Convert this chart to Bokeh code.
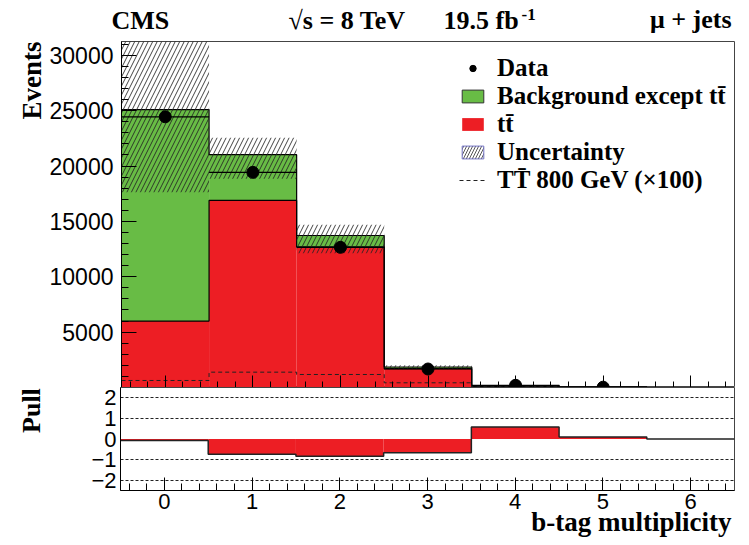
import numpy as np
from bokeh.plotting import figure
from bokeh.layouts import column, row
from bokeh.models import (Range1d, FixedTicker, SingleIntervalTicker, Label,
                          Legend, LegendItem, Title, CustomLabelingPolicy)
from bokeh.embed import file_html
from bokeh.resources import INLINE

# ---------------- data ----------------
bins = [0, 1, 2, 3, 4, 5, 6]
ttbar = [6000, 16900, 12700, 1700, 100, 15, 0]
background = [19100, 4130, 1030, 150, 50, 10, 0]
unc_up = [7500, 1520, 960, 150, 40, 8, 0]
unc_down = [7460, 2180, 1600, 200, 40, 8, 0]
tprime_x100 = [635, 1385, 1175, 425, 50, 5, 0]
data_bins = [0, 1, 2, 3, 4, 5]
data_counts = [24450, 19430, 12660, 1670, 200, 30]
pull = [-0.07, -0.74, -0.84, -0.67, 0.58, 0.10, 0.0]
y_ticks = [5000, 10000, 15000, 20000, 25000, 30000]
y_minor = [1000 * i for i in range(1, 32)]
pull_ticks = [-2, -1, 0, 1, 2]
pull_grid = [-2, -1, 1, 2]

RED = "#ed1e24"
GREEN = "#68bc45"
SERIF = "Liberation Serif"
SANS = "Liberation Sans"

W, H = 749, 545
FL, FR, FT, FB, PB = 120, 734, 41, 387, 490
STRIP = 46
YMAX = 31250
MID = 0.3375  # baseline -> middle of font box, in em (Liberation Serif)

b = np.array(bins, dtype=float)
tt = np.array(ttbar, dtype=float)
bk = np.array(background, dtype=float)
tot = tt + bk
edges = np.append(b - 0.5, b[-1] + 0.5)
NAN = np.array([np.nan])


def stepy(v):
    v = list(v)
    return v + [v[-1]]


def blank(width, height, y0, y1):
    f = figure(width=width, height=height, x_range=Range1d(0, width),
               y_range=Range1d(y1, y0), x_axis_type=None, y_axis_type=None,
               output_backend="svg", toolbar_location=None, min_border=0,
               outline_line_color=None)
    f.background_fill_color = "white"
    f.border_fill_color = "white"
    return f


txt = dict(text_font=SERIF, text_font_style="bold", text_color="black",
           text_baseline="middle")

# ---------------- header ----------------
header = blank(W, FT, 0, FT)
header.add_layout(Label(x=111, y=29 - MID * 26, text="CMS",
                        text_align="left", text_font_size="26px", **txt))
header.add_layout(Label(x=405, y=29 - MID * 26, text="\u221as = 8 TeV",
                        text_align="right", text_font_size="26px", **txt))
header.add_layout(Label(x=443, y=29 - MID * 26, text="19.5 fb",
                        text_align="left", text_font_size="26px", **txt))
header.add_layout(Label(x=521, y=20 - MID * 17, text="-1",
                        text_align="left", text_font_size="17px", **txt))
header.add_layout(Label(x=731, y=28 - MID * 26, text="\u03bc + jets",
                        text_align="right", text_font_size="26px", **txt))

# ---------------- left strips for the rotated titles ----------------
strip1 = blank(STRIP, FB - FT, FT, FB)
strip1.add_layout(Label(x=41 - MID * 27, y=FT, text="Events",
                        angle=np.pi / 2, text_align="right",
                        text_font_size="27px", **txt))
strip2 = blank(STRIP, H - FB, FB, H)
strip2.add_layout(Label(x=40 - MID * 26, y=FB + 1, text="Pull",
                        angle=np.pi / 2, text_align="right",
                        text_font_size="26px", **txt))

# ---------------- main panel ----------------
p = figure(width=W - STRIP, height=FB - FT, x_range=Range1d(-0.5, 6.5),
           y_range=Range1d(0, YMAX), output_backend="svg",
           toolbar_location=None, min_border_left=FL - STRIP,
           min_border_right=W - FR, min_border_top=0, min_border_bottom=0)
p.xgrid.visible = False
p.ygrid.visible = False
p.outline_line_color = "#444444"
p.background_fill_color = "white"
p.border_fill_color = "white"

r_tt = p.quad(left=b - 0.5, right=b + 0.5, bottom=0, top=tt,
              fill_color=RED, line_color=None)
p.quad(left=b - 0.5, right=b + 0.5, bottom=tt, top=tot,
       fill_color=GREEN, line_color=None)
p.step(edges, stepy(tt), mode="after", line_color="black", line_width=1.2)
p.step(edges, stepy(tot), mode="after", line_color="black", line_width=1.2)
r_tp = p.step(edges, stepy(tprime_x100), mode="after", line_color="#222222",
              line_width=1, line_dash="4 3")
p.quad(left=b - 0.5, right=b + 0.5,
       bottom=tot - np.array(unc_down), top=tot + np.array(unc_up),
       fill_color=None, line_color=None, hatch_pattern="/",
       hatch_color="#222222", hatch_alpha=0.85, hatch_scale=9,
       hatch_weight=1)
# legend-only glyphs (not drawn in the plot area)
r_bkg_leg = p.quad(left=NAN, right=NAN, bottom=NAN, top=NAN,
                   fill_color=GREEN, line_color="#333333", line_width=1)
r_unc_leg = p.quad(left=NAN, right=NAN, bottom=NAN, top=NAN,
                   fill_color=None, line_color="#7070c0", line_width=1,
                   hatch_pattern="/", hatch_color="#555555", hatch_scale=6,
                   hatch_weight=1)

db = np.array(data_bins, dtype=float)
dc = np.array(data_counts, dtype=float)
p.segment(db - 0.5, dc, db + 0.5, dc, line_color="black", line_width=1.2)
p.segment(db, dc - np.sqrt(dc), db, dc + np.sqrt(dc), line_color="black",
          line_width=1.2)
r_data = p.scatter(db, dc, size=12, fill_color="black", line_color="black")

p.xaxis.ticker = SingleIntervalTicker(interval=1, num_minor_ticks=5)
p.xaxis.major_label_text_font_size = "0px"
p.xaxis.major_label_policy = CustomLabelingPolicy(
    code="const all = [...indices]; for (const i of all) { indices.unset(i) }; return indices")
p.xaxis.major_label_standoff = 0
p.xaxis.major_tick_in = 12
p.xaxis.major_tick_out = 0
p.xaxis.minor_tick_in = 6
p.xaxis.minor_tick_out = 0
p.xaxis.axis_line_color = "black"

p.yaxis.ticker = FixedTicker(ticks=y_ticks, minor_ticks=y_minor)
p.yaxis.major_tick_in = 15
p.yaxis.major_tick_out = 0
p.yaxis.minor_tick_in = 7
p.yaxis.minor_tick_out = 0
p.yaxis.major_label_text_font = SANS
p.yaxis.major_label_text_font_size = "23px"
p.yaxis.major_label_text_color = "black"
p.yaxis.major_label_standoff = 8
p.yaxis.axis_line_color = "black"

legend = Legend(items=[
    LegendItem(label="Data", renderers=[r_data]),
    LegendItem(label="Background except tt\u0304", renderers=[r_bkg_leg]),
    LegendItem(label="tt\u0304", renderers=[r_tt]),
    LegendItem(label="Uncertainty", renderers=[r_unc_leg]),
    LegendItem(label="TT\u0304 800 GeV (\u00d7100)", renderers=[r_tp]),
], location=(338, 193))
legend.background_fill_alpha = 0
legend.border_line_color = None
legend.label_text_font = SERIF
legend.label_text_font_style = "bold"
legend.label_text_font_size = "25px"
legend.label_text_color = "black"
legend.glyph_width = 27
legend.glyph_height = 16
legend.label_standoff = 11
legend.label_height = 27
legend.spacing = 0
legend.padding = 0
legend.margin = 0
p.add_layout(legend)

# ---------------- pull panel ----------------
q = figure(width=W - STRIP, height=H - FB, x_range=p.x_range,
           y_range=Range1d(-2.5, 2.5), output_backend="svg",
           toolbar_location=None, min_border_left=FL - STRIP,
           min_border_right=W - FR, min_border_top=0,
           min_border_bottom=H - PB)
q.xgrid.visible = False
q.ygrid.ticker = FixedTicker(ticks=pull_grid)
q.ygrid.grid_line_color = "#222222"
q.ygrid.grid_line_dash = "3 2"
q.ygrid.grid_line_width = 1
q.outline_line_color = "#444444"
q.background_fill_color = "white"
q.border_fill_color = "white"

pl = np.array(pull, dtype=float)
q.quad(left=b - 0.5, right=b + 0.5, bottom=np.minimum(pl, 0),
       top=np.maximum(pl, 0), fill_color=RED, line_color=None)
q.step(edges, stepy(pl), mode="after", line_color="#222222", line_width=1.5)

q.xaxis.ticker = SingleIntervalTicker(interval=1, num_minor_ticks=5)
q.xaxis.major_tick_in = 13
q.xaxis.major_tick_out = 0
q.xaxis.minor_tick_in = 7
q.xaxis.minor_tick_out = 0
q.xaxis.major_label_text_font = SANS
q.xaxis.major_label_text_font_size = "22px"
q.xaxis.major_label_text_color = "black"
q.xaxis.major_label_standoff = 3
q.xaxis.axis_line_color = "black"

q.yaxis.ticker = FixedTicker(ticks=pull_ticks, minor_ticks=[])
q.yaxis.major_tick_in = 0
q.yaxis.major_tick_out = 0
q.yaxis.major_label_text_font = SANS
q.yaxis.major_label_text_font_size = "22px"
q.yaxis.major_label_text_color = "black"
q.yaxis.major_label_standoff = 4
q.yaxis.axis_line_color = "black"

q.add_layout(Title(text="b-tag multiplicity", align="right", offset=3,
                   vertical_align="top", standoff=-10, text_font=SERIF,
                   text_font_style="bold", text_font_size="27px",
                   text_color="black"), "below")

layout = column(header, row(strip1, p, spacing=0),
                row(strip2, q, spacing=0), spacing=0)
open("out.html", "w").write(file_html(layout, INLINE))
